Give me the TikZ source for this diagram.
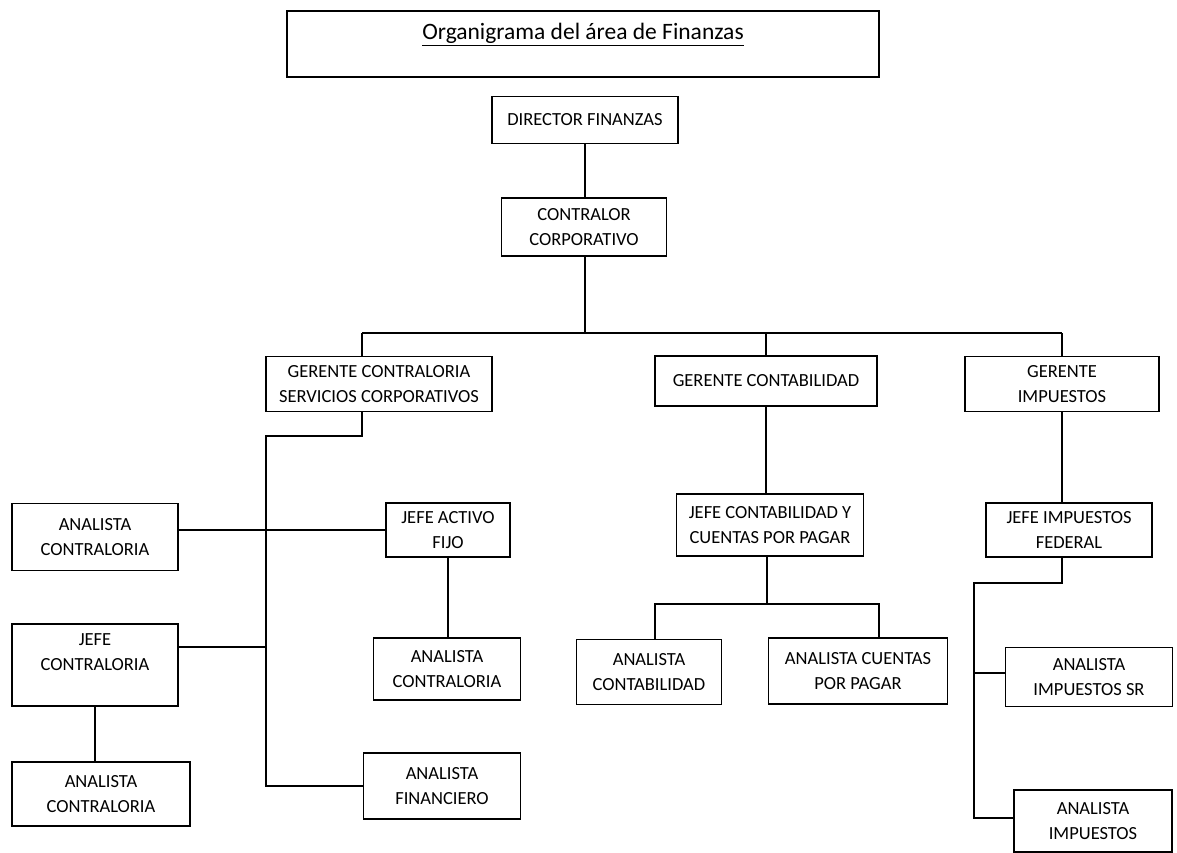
\documentclass[tikz,border=0pt]{standalone}
\usepackage{fontspec}
\setmainfont{Carlito}
\usetikzlibrary{positioning}

\tikzset{puesto/.style={draw, line width=1.3pt, align=center, inner sep=0pt, font=\fontsize{18.5}{25}\selectfont}}

\begin{document}
\begin{tikzpicture}[x=1pt,y=-1pt,line width=1.3pt]
    \useasboundingbox (0,0) rectangle (1177,853);
    \node[draw, line width=1.3pt, inner sep=0pt, minimum width=592pt, text height=29pt, text depth=37pt, font=\fontsize{23.5}{26}\selectfont] (titulo) at (583,44) {\underline{Organigrama del área de Finanzas}};
    \foreach \n/\cx/\cy/\w/\h/\t in {
        director/585/120/186/47/{DIRECTOR FINANZAS},
        contralor/584/227/165/58/{CONTRALOR\\CORPORATIVO},
        gcontral/379/384/226/55/{GERENTE CONTRALORIA\\SERVICIOS CORPORATIVOS},
        gconta/766/381/222/50/{GERENTE CONTABILIDAD},
        gimp/1062/384/194/55/{GERENTE\\IMPUESTOS},
        analistaA/95/537/166/67/{ANALISTA\\CONTRALORIA},
        jactivo/448/530/124/54/{JEFE ACTIVO\\FIJO},
        analistaB/447/669/147/62/{ANALISTA\\CONTRALORIA},
        jcontral/95/665/166/82/{JEFE\\CONTRALORIA\\\mbox{}},
        analistaC/101/794/178/64/{ANALISTA\\CONTRALORIA},
        afin/442/786/157/66/{ANALISTA\\FINANCIERO},
        jconta/770/525/187/62/{JEFE CONTABILIDAD Y\\CUENTAS POR PAGAR},
        aconta/649/672/145/65/{ANALISTA\\CONTABILIDAD},
        acxp/858/671/179/66/{ANALISTA CUENTAS\\POR PAGAR},
        jimp/1069/530/166/54/{JEFE IMPUESTOS\\FEDERAL},
        aimpsr/1089/677/167/59/{ANALISTA\\IMPUESTOS SR},
        aimp/1093/821/158/62/{ANALISTA\\IMPUESTOS}}
        {\node[puesto, minimum width=\w pt, minimum height=\h pt] (\n) at (\cx,\cy) {\t};}

    % puntos de las barras
    \coordinate (bus) at (585,333);
    \coordinate (gc) at (362,333);
    \coordinate (troncoA) at (266,436);
    \coordinate (cJ) at (178,647);
    \coordinate (bC) at (767,604);
    \coordinate (bC1) at (655,604);
    \coordinate (bC2) at (879,604);
    \coordinate (troncoI) at (974,583);
    \coordinate (cI1) at (974,673);
    \coordinate (cI2) at (974,818);

    \draw (director.south) -- (director.south |- contralor.north);
    \draw (bus |- contralor.south) -- (bus);
    \draw (gc) -- (gimp.north |- bus);
    \draw (gc) -- (gc |- gcontral.north);
    \draw (gconta.north) -- (gconta.north |- bus);
    \draw (gimp.north) -- (gimp.north |- bus);

    % contraloria
    \draw (gc |- gcontral.south) |- (troncoA) |- (afin.west);
    \draw (analistaA.east |- jactivo.west) -- (jactivo.west);
    \draw (cJ) -- (cJ -| troncoA);
    \draw (jcontral.south) -- (jcontral.south |- analistaC.north);
    \draw (jactivo.south) -- (jactivo.south |- analistaB.north);

    % contabilidad
    \draw (gconta.south) -- (gconta.south |- jconta.north);
    \draw (bC |- jconta.south) -- (bC);
    \draw (bC1 |- aconta.north) -- (bC1) -- (bC2) -- (bC2 |- acxp.north);

    % impuestos
    \draw (gimp.south) -- (gimp.south |- jimp.north);
    \draw (gimp.south |- jimp.south) |- (troncoI) -- (cI2) -- (cI2 -| aimp.west);
    \draw (cI1 -| aimpsr.west) -- (cI1);
\end{tikzpicture}
\end{document}
